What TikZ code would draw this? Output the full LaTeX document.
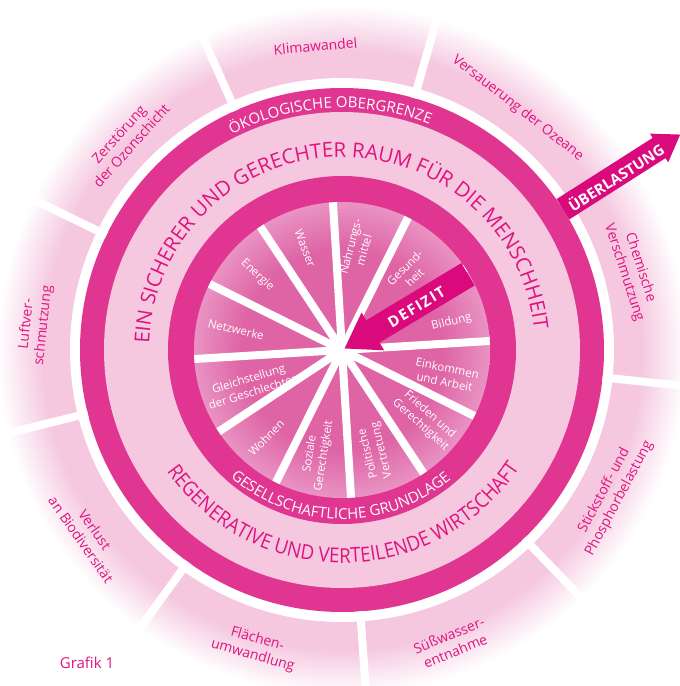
\documentclass[tikz,border=0pt]{standalone}
\usepackage{fontspec}
\setmainfont{Open Sans}
\newfontfamily\narrowsans[FakeStretch=0.91]{Open Sans}
\usepackage{tikz}
\usetikzlibrary{decorations.text}

\definecolor{ringpink}{HTML}{E03590}
\definecolor{lightpink}{HTML}{F5C8E0}
\definecolor{wedgepink}{HTML}{DE64A5}
\definecolor{wedgeedge}{HTML}{E993C3}
\definecolor{arrowpink}{HTML}{DA0A7D}
\definecolor{labelpink}{HTML}{E0127F}

\pgfdeclareradialshading{rimfade}{\pgfpointorigin}{color(0bp)=(lightpink); color(21.7bp)=(lightpink); color(25bp)=(white); color(50bp)=(white)}
\pgfdeclareradialshading{wedgefade}{\pgfpointorigin}{color(0bp)=(wedgepink); color(17bp)=(wedgepink); color(25bp)=(wedgeedge); color(50bp)=(wedgeedge)}

\newcommand\ringtitle{\fontsize{20.5}{24}\selectfont\color{labelpink}}
\newcommand\ringbottom{\narrowsans\fontsize{20.5}{24}\selectfont\color{labelpink}}
\newcommand\bandtext{\fontsize{15}{18}\selectfont\color{white}}

\begin{document}
\begin{tikzpicture}[x=1pt, y=1pt,
   outerlabel/.style={text=labelpink, align=center, inner sep=0pt, font=\fontsize{14}{17}\selectfont},
   innerlabel/.style={text=white, align=center, inner sep=0pt, font=\fontsize{11.5}{14}\selectfont},
   arrowtext/.style={text=white, inner sep=0pt, font=\fontsize{15}{18}\selectfont\bfseries},
   gap/.style={white, line width=8pt}]

   \useasboundingbox (-342,-336) rectangle (338,350);

   % rings from the outside in
   \shade[shading=rimfade] (0,0) circle[radius=345];
   \fill[white] (0,0) circle[radius=272];
   \fill[ringpink] (0,0) circle[radius=262];
   \fill[lightpink] (0,0) circle[radius=238];
   \fill[ringpink] (0,0) circle[radius=174];
   \shade[shading=wedgefade] (0,0) circle[radius=148];

   % white cuts between the sectors
   \foreach \a in {114,74,...,-206}
      \draw[gap] (\a:262) -- (\a:352);
   \foreach \a in {3.5,33.5,...,333.5}
      \draw[gap] (0,0) -- (\a:148);

   % planetary boundaries
   \node[outerlabel, rotate=5] (klima) at (95:305) {Klimawandel};
   \node[outerlabel, rotate=-38] (ozeane) at (54:299) {Versauerung der Ozeane};
   \node[outerlabel, rotate=-72] (chemie) at (15.4:301) {Chemische\\Verschmutzung};
   \node[outerlabel, rotate=62] (stickstoff) at (-28.2:306) {Stickstoff- und\\Phosphorbelastung};
   \node[outerlabel, rotate=22] (wasserentnahme) at (-69.4:313) {Süßwasser-\\entnahme};
   \node[outerlabel, rotate=-16] (flaechen) at (-106.3:310) {Flächen-\\umwandlung};
   \node[outerlabel, rotate=-55] (biodiv) at (-144:314) {Verlust\\an Biodiversität};
   \node[outerlabel, rotate=84] (luft) at (175.3:308) {Luftver-\\schmutzung};
   \node[outerlabel, rotate=48] (ozon) at (135.9:302) {Zerstörung\\der Ozonschicht};

   % social foundation
   \node[innerlabel, rotate=-69] (wasser) at (110:108) {Wasser};
   \node[innerlabel, rotate=75] (nahrung) at (81.6:103) {Nahrungs-\\mittel};
   \node[innerlabel, rotate=45] (gesundheit) at (48.9:103) {Gesund-\\heit};
   \node[innerlabel, rotate=14] (bildung) at (14.3:113) {Bildung};
   \node[innerlabel, rotate=-11.5] (einkommen) at (-13.5:107) {Einkommen\\und Arbeit};
   \node[innerlabel, rotate=-42] (frieden) at (-40:108.6) {Frieden und\\Gerechtigkeit};
   \node[innerlabel, rotate=104] (politik) at (-72:107) {Politische\\Vertretung};
   \node[innerlabel, rotate=81] (sozial) at (-103.4:108) {Soziale\\Gerechtigkeit};
   \node[innerlabel, rotate=46] (wohnen) at (-130.8:116) {Wohnen};
   \node[innerlabel, rotate=17] (gleich) at (-159:98) {Gleichstellung\\der Geschlechter};
   \node[innerlabel, rotate=-43] (energie) at (138.6:113) {Energie};
   \node[innerlabel, rotate=-13] (netz) at (169:108) {Netzwerke};

   % lettering along the rings
   \path[decorate, decoration={text along path, text align=center,
      text={|\bandtext|ÖKOLOGISCHE OBERGRENZE}}]
      (162.9:242) arc[start angle=162.9, end angle=22.9, radius=242];
   \path[decorate, decoration={text along path, text align=center,
      text={|\ringtitle|EIN SICHERER UND GERECHTER RAUM FÜR DIE MENSCHHEIT}}]
      (182:193) arc[start angle=182, end angle=2, radius=193];
   \path[decorate, decoration={text along path, text align=center,
      text={|\ringbottom|REGENERATIVE UND VERTEILENDE WIRTSCHAFT}}]
      (-179.5:213) arc[start angle=-179.5, end angle=0.5, radius=213];
   \path[decorate, decoration={text along path, text align=center,
      text={|\bandtext|GESELLSCHAFTLICHE GRUNDLAGE}}]
      (-170.5:169) arc[start angle=-170.5, end angle=-10.5, radius=169];

   % overshoot and shortfall
   \fill[arrowpink, rotate=32.5] (262,-12) -- (376,-12) -- (376,-17) -- (401,0)
      -- (376,17) -- (376,12) -- (262,12) -- cycle;
   \node[arrowtext, rotate=32.5] (ueberlast) at (32.3:324) {ÜBERLASTUNG};
   \fill[arrowpink, rotate=31] (147,-13) -- (36,-13) -- (36,-22) -- (3,0)
      -- (36,22) -- (36,13) -- (147,13) -- cycle;
   \node[arrowtext, rotate=31] (defizit) at (30:86) {\addfontfeatures{LetterSpace=10}DEFIZIT};

   \node[text=labelpink, font=\fontsize{15}{18}\selectfont] (grafik) at (-255,-313) {Grafik 1};
\end{tikzpicture}
\end{document}
